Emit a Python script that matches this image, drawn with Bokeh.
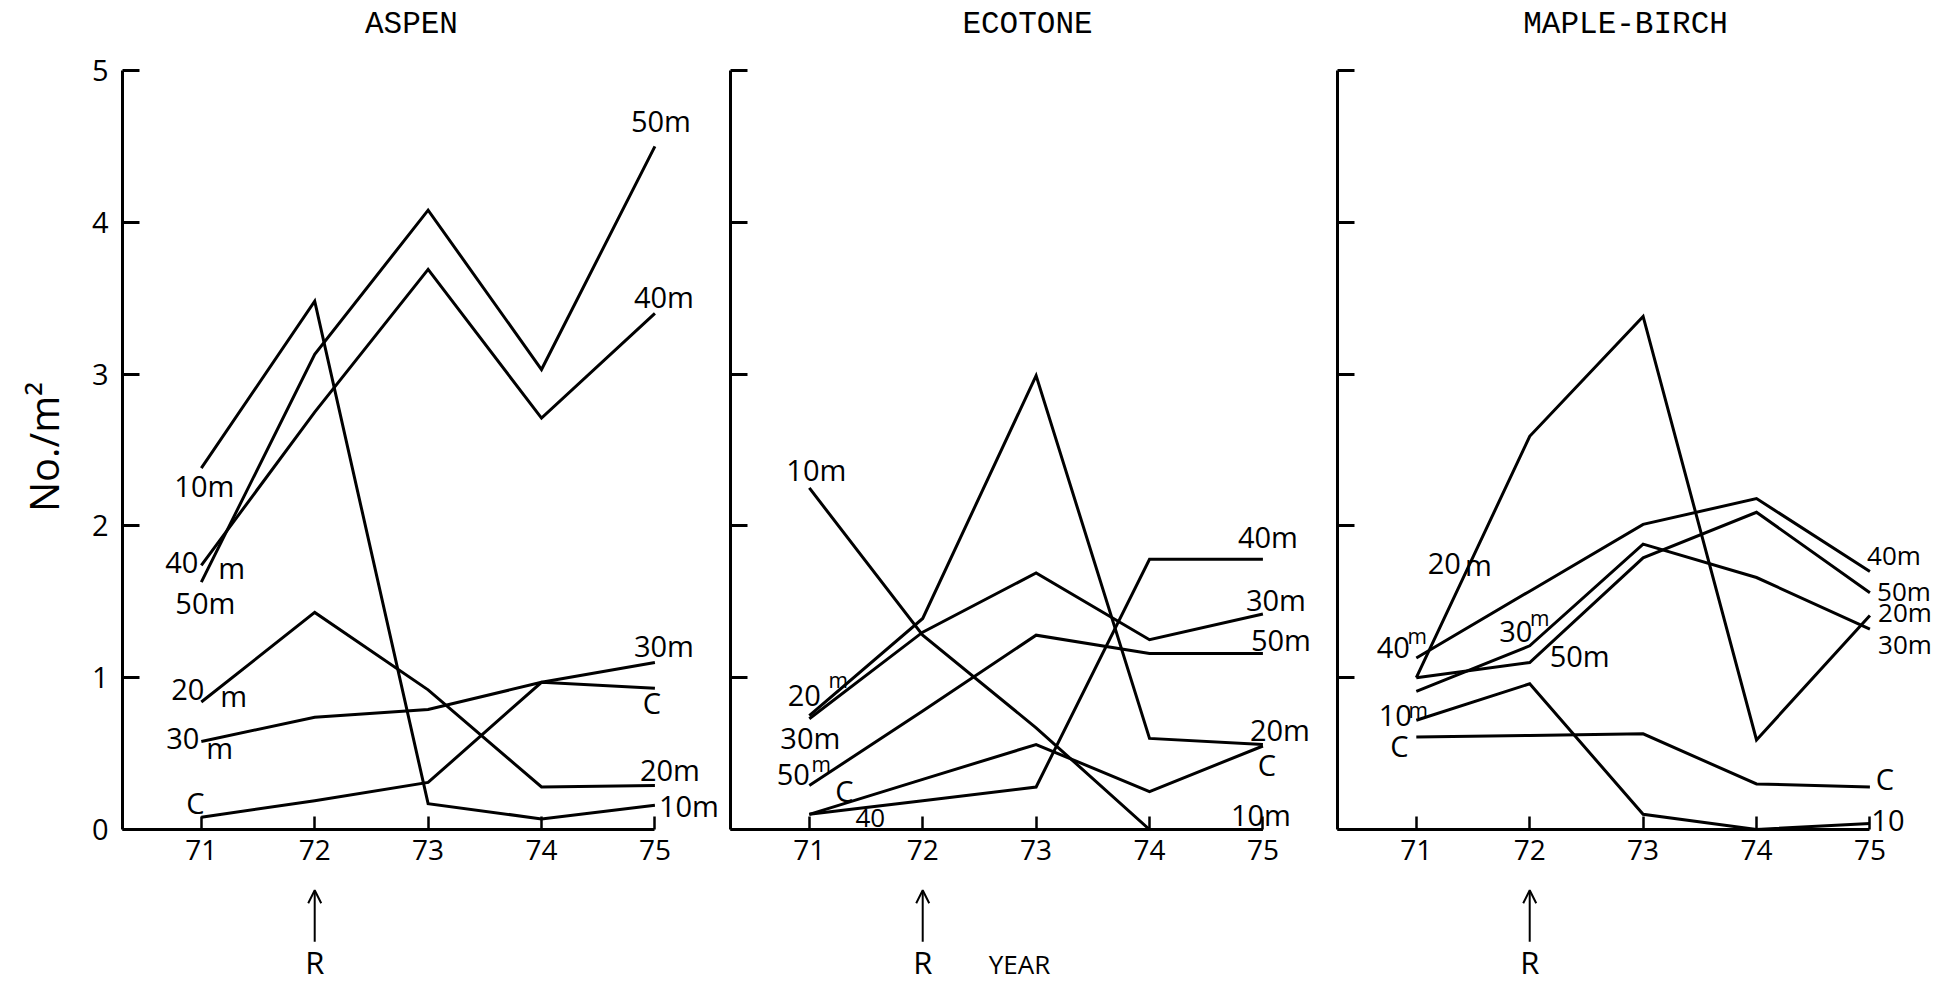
import math
from bokeh.plotting import figure
from bokeh.models import Range1d, Label, Arrow, OpenHead, FixedTicker
from bokeh.layouts import row
from bokeh.embed import file_html
from bokeh.resources import INLINE

# ---------------- data ----------------
years = [71, 72, 73, 74, 75]
year_tick_labels = ["71", "72", "73", "74", "75"]
y_ticks = [0, 1, 2, 3, 4, 5]
treatment_year = 72
treatment_label = "R"

panel_titles = ["ASPEN", "ECOTONE", "MAPLE-BIRCH"]
y_axis_title = "No./m\u00b2"
x_axis_title = "YEAR"

# ASPEN (No./m^2)
aspen_10m = [2.38, 3.48, 0.17, 0.07, 0.16]
aspen_20m = [0.84, 1.43, 0.92, 0.28, 0.29]
aspen_30m = [0.58, 0.74, 0.79, 0.97, 1.10]
aspen_40m = [1.74, 2.75, 3.69, 2.71, 3.40]
aspen_50m = [1.63, 3.13, 4.08, 3.03, 4.50]
aspen_C = [0.08, 0.19, 0.31, 0.97, 0.93]

# ECOTONE
ecotone_10m = [2.25, 1.28, 0.67, 0.00, 0.00]
ecotone_20m = [0.75, 1.39, 2.99, 0.60, 0.56]
ecotone_30m = [0.73, 1.30, 1.69, 1.25, 1.42]
ecotone_40m = [0.10, 0.19, 0.28, 1.78, 1.78]
ecotone_50m = [0.29, 0.78, 1.28, 1.16, 1.16]
ecotone_C = [0.10, 0.33, 0.56, 0.25, 0.55]

# MAPLE-BIRCH
maple_10m = [0.72, 0.96, 0.10, 0.00, 0.04]
maple_20m = [1.00, 2.59, 3.38, 0.59, 1.41]
maple_30m = [0.91, 1.21, 1.88, 1.66, 1.32]
maple_40m = [1.13, 1.57, 2.01, 2.18, 1.70]
maple_50m = [1.00, 1.10, 1.79, 2.09, 1.56]
maple_C = [0.61, 0.62, 0.63, 0.30, 0.28]

# ---------------- layout / style ----------------
HAND = "Open Sans"
TYPE = "Liberation Mono"
X_START = 70.305          # where each panel's vertical axis sits
PX_PER_YEAR = 113.4
PX_PER_UNIT = 151.8
FIG_H = 983
ZERO_FROM_TOP = 829       # pixels from figure top to y = 0
Y_END = ZERO_FROM_TOP / PX_PER_UNIT
Y_START = -(FIG_H - ZERO_FROM_TOP) / PX_PER_UNIT
LW = 3


def make_panel(idx, series, labels, left_px, fig_w, title_x, show_ylab):
    x0 = X_START - left_px / PX_PER_YEAR
    x1 = x0 + fig_w / PX_PER_YEAR
    p = figure(width=fig_w, height=FIG_H,
               x_range=Range1d(x0, x1), y_range=Range1d(Y_START, Y_END),
               output_backend="svg", toolbar_location=None,
               min_border_left=0, min_border_right=0,
               min_border_top=0, min_border_bottom=0)
    p.outline_line_color = None
    p.xgrid.visible = False
    p.ygrid.visible = False
    p.background_fill_color = "white"
    p.border_fill_color = "white"

    xa = p.xaxis[0]
    xa.fixed_location = 0
    xa.ticker = FixedTicker(ticks=years)
    xa.major_label_overrides = {y: l for y, l in zip(years, year_tick_labels)}
    xa.bounds = (X_START, years[-1])
    xa.major_tick_in = 13
    xa.major_tick_out = 0
    xa.minor_tick_line_color = None
    xa.axis_line_width = 3
    xa.major_tick_line_width = 2.5
    xa.major_label_text_font = HAND
    xa.major_label_text_font_size = "28px"
    xa.major_label_standoff = 10
    xa.major_label_text_color = "black"

    ya = p.yaxis[0]
    ya.fixed_location = X_START
    ya.ticker = FixedTicker(ticks=y_ticks)
    ya.bounds = (y_ticks[0], y_ticks[-1])
    ya.major_tick_in = 17
    ya.major_tick_out = 0
    ya.minor_tick_line_color = None
    ya.axis_line_width = 3
    ya.major_tick_line_width = 3
    if show_ylab:
        ya.major_label_text_font = HAND
        ya.major_label_text_font_size = "29px"
        ya.major_label_standoff = 14
        ya.major_label_text_color = "black"
    else:
        ya.major_label_text_color = None

    for name, vals in series.items():
        p.line(years, vals, line_width=LW, line_color="black", line_join="miter")

    for (name, i, text, dx, dy, align, size) in labels:
        vals = series[name]
        p.add_layout(Label(x=years[i], y=vals[i], x_offset=dx, y_offset=dy,
                           text=text, text_align=align, text_baseline="middle",
                           text_font=HAND, text_font_size=f"{size}px",
                           text_color="black"))

    # panel title
    p.add_layout(Label(x=title_x, y=5.30, text=panel_titles[idx],
                       text_align="center", text_baseline="middle",
                       text_font=TYPE, text_font_size="31px", text_color="black"))
    # treatment arrow + R
    p.add_layout(Arrow(end=OpenHead(size=13, line_width=2), x_start=treatment_year,
                       y_start=-0.74, x_end=treatment_year, y_end=-0.40,
                       line_width=2, line_color="black"))
    p.add_layout(Label(x=treatment_year, y=-0.87, text=treatment_label,
                       text_align="center", text_baseline="middle",
                       text_font=HAND, text_font_size="31px", text_color="black"))
    return p


S = 21  # small superscript size
N = 29  # normal label size
R = 26  # right-edge labels in last panel

aspen = {"m10": aspen_10m, "m20": aspen_20m, "m30": aspen_30m,
         "m40": aspen_40m, "m50": aspen_50m, "C": aspen_C}
aspen_labels = [
    ("m10", 0, "10m", 3, -17, "center", N),
    ("m40", 0, "40", -3, 3, "right", N),
    ("m40", 0, "m", 17, -2, "left", N),
    ("m50", 0, "50m", 4, -20, "center", N),
    ("m20", 0, "20", 3, 12, "right", N),
    ("m20", 0, "m", 19, 6, "left", N),
    ("m30", 0, "30", -2, 3, "right", N),
    ("m30", 0, "m", 5, -6, "left", N),
    ("C", 0, "C", -6, 15, "center", N),
    ("m50", 4, "50m", 6, 26, "center", N),
    ("m40", 4, "40m", 9, 17, "center", N),
    ("m30", 4, "30m", 9, 17, "center", N),
    ("C", 4, "C", -3, -14, "center", N),
    ("m20", 4, "20m", 15, 16, "center", N),
    ("m10", 4, "10m", 4, 0, "left", N),
]

ecotone = {"m10": ecotone_10m, "m20": ecotone_20m, "m30": ecotone_30m,
           "m40": ecotone_40m, "m50": ecotone_50m, "C": ecotone_C}
ecotone_labels = [
    ("m10", 0, "10m", 7, 18, "center", N),
    ("m20", 0, "20", -5, 20, "center", N),
    ("m20", 0, "m", 29, 36, "center", S),
    ("m30", 0, "30m", 1, -19, "center", N),
    ("m50", 0, "50", -16, 11, "center", N),
    ("m50", 0, "m", 12, 21, "center", S),
    ("C", 0, "C", 35, 24, "center", N),
    ("m40", 0, "40", 61, -4, "center", 26),
    ("m40", 4, "40m", 5, 23, "center", N),
    ("m30", 4, "30m", 13, 14, "center", N),
    ("m50", 4, "50m", 18, 14, "center", N),
    ("m20", 4, "20m", 17, 15, "center", N),
    ("C", 4, "C", 4, -18, "center", N),
    ("m10", 4, "10m", -2, 15, "center", N),
]

maple = {"m10": maple_10m, "m20": maple_20m, "m30": maple_30m,
         "m40": maple_40m, "m50": maple_50m, "C": maple_C}
maple_labels = [
    ("m40", 0, "40", -23, 10, "center", N),
    ("m40", 0, "m", 1, 22, "center", S),
    ("m10", 0, "10", -21, 5, "center", N),
    ("m10", 0, "m", 2, 10, "center", S),
    ("C", 0, "C", -17, -9, "center", N),
    ("m30", 1, "30", -14, 14, "center", N),
    ("m30", 1, "m", 10, 28, "center", S),
    ("m50", 1, "50m", 50, 7, "center", N),
    ("m20", 0, "20", 28, 114, "center", N),
    ("m20", 0, "m", 62, 113, "center", N),
    ("m40", 4, "40m", 24, 16, "center", R),
    ("m50", 4, "50m", 34, 2, "center", R),
    ("m20", 4, "20m", 35, 3, "center", R),
    ("m30", 4, "30m", 35, -15, "center", R),
    ("C", 4, "C", 15, 8, "center", N),
    ("m10", 4, "10", 18, 3, "center", N),
]

p1 = make_panel(0, aspen, aspen_labels, 122, 718, 72.853, True)
p2 = make_panel(1, ecotone, ecotone_labels, 12, 606, 72.924, False)
p3 = make_panel(2, maple, maple_labels, 13, 609, 72.845, False)

# y-axis title, rotated, left of the ASPEN axis
p1.add_layout(Label(x=X_START - 79 / PX_PER_YEAR, y=2.52, text=y_axis_title,
                    angle=math.pi / 2, text_align="center", text_baseline="middle",
                    text_font=HAND, text_font_size="40px", text_color="black"))
# x-axis title under the middle panel
p2.add_layout(Label(x=72.853, y=-0.885, text=x_axis_title, text_align="center",
                    text_baseline="middle", text_font=HAND,
                    text_font_size="26px", text_color="black"))

layout = row(p1, p2, p3)
open("out.html", "w").write(file_html(layout, INLINE))
